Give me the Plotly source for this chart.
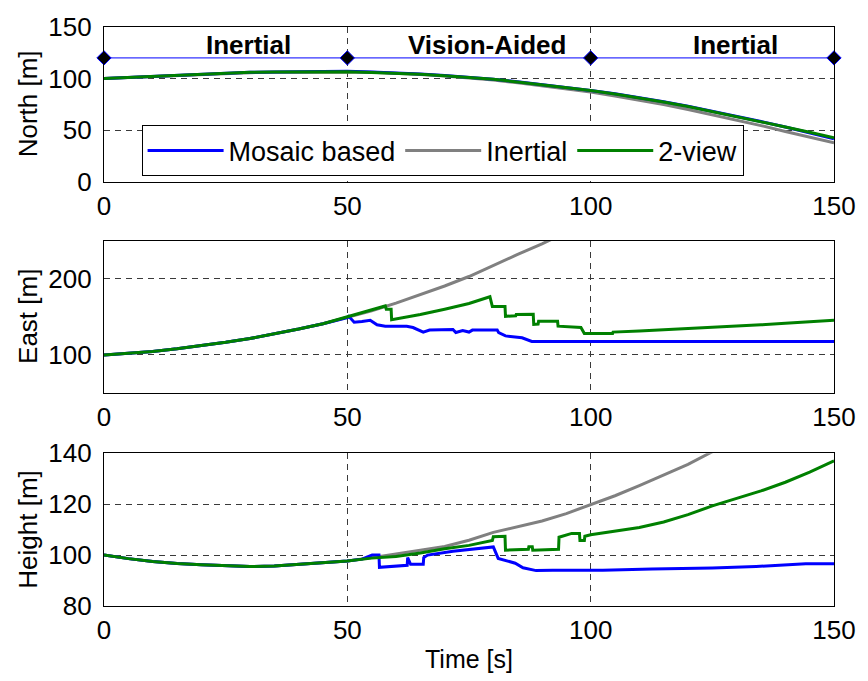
import plotly.graph_objects as go
from plotly.subplots import make_subplots

# ---------------- North [m] ----------------
t_north = [0, 5, 10, 15, 20, 25, 30, 35, 40, 45, 50, 55, 60, 65, 70, 75,
           80, 85, 90, 95, 100, 105, 110, 115, 120, 125, 130, 135, 140, 145, 150]
north_inertial = [100, 101, 102.3, 103.3, 104.3, 105, 105.7, 106, 106.3, 106.4, 106.4,
                  106, 105.2, 104, 102.5, 100.7, 98.5, 95.8, 92.8, 89.6, 86.8,
                  83, 79, 74.7, 70, 65, 59.7, 54.3, 48.6, 43, 37.5]
north_mosaic = [100, 101, 102.5, 103.5, 104.5, 105.2, 106, 106.3, 106.5, 106.6, 107,
                106.2, 105.5, 104.4, 103, 101.4, 99.3, 96.8, 94.1, 91.1, 88.4,
                85.2, 81.5, 77.4, 73, 68.2, 63.2, 58.2, 53, 47.6, 41.5]
north_2view = [100, 101, 102.5, 103.5, 104.5, 105.2, 106, 106.3, 106.5, 106.6, 106.6,
               105.8, 105.3, 104.2, 102.8, 101.2, 99.2, 96.7, 94, 91, 88.3,
               85, 81.3, 77.2, 72.8, 68, 63, 58, 53, 47.8, 42.5]

# ---------------- East [m] ----------------
t_east_inertial = [0, 5, 10, 15, 20, 25, 30, 35, 40, 45, 50, 55, 60, 65, 70, 75, 80, 85, 90, 95]
east_inertial = [100, 102, 104.5, 108, 112, 116.5, 121.5, 127.5, 134, 141, 149,
                 158, 168, 179, 190.5, 203, 218, 232, 246, 261]

t_east_mosaic = [0, 5, 10, 15, 20, 25, 30, 35, 40, 45, 50, 50.3, 51.4, 53, 54.7, 56.1,
                 57.8, 62.2, 63.5, 65.6, 66.9, 71.7, 72.3, 73.7, 75.0, 75.7, 80.8,
                 81.1, 82.5, 85.9, 87.9, 150]
east_mosaic = [100, 102, 104.5, 108, 112, 116.5, 121.5, 127.5, 134, 141, 149, 150.7, 143,
               144, 145.6, 139.5, 137.8, 137.5, 136, 130, 132.6, 133.5, 129.5, 132,
               130, 132.6, 132.6, 129.2, 125, 122.5, 117.6, 117.5]

t_east_2view = [0, 5, 10, 15, 20, 25, 30, 35, 40, 45, 50, 55, 57.8, 58.0, 59, 59.1,
                65, 70, 75, 79.3, 79.8, 82.4, 82.5, 84.6, 84.7, 88.2, 88.3, 89.2,
                89.3, 93.2, 93.3, 98, 98.7, 104.5, 104.6, 110, 115, 120, 125, 130,
                135, 140, 145, 150]
east_2view = [100, 102, 104.5, 108, 112, 116.5, 121.5, 127.5, 134, 141, 150, 158.5,
              164.3, 160, 160, 146.3, 153, 160, 167.5, 176.4, 163.6, 163.6, 150.7,
              151.5, 153, 153.5, 140, 140.5, 144.2, 144.2, 137.8, 136, 128, 128,
              130, 131.5, 133, 134.5, 136, 137.5, 139.5, 141.5, 143.5, 145.5]

# ---------------- Height [m] ----------------
t_height_inertial = [0, 5, 10, 15, 20, 25, 30, 35, 40, 45, 50, 55, 60, 65, 70, 75, 80,
                     85, 90, 95, 100, 105, 110, 115, 120, 125, 130]
height_inertial = [100, 98.6, 97.5, 96.7, 96.2, 95.8, 95.5, 95.7, 96.3, 97, 97.7,
                   99, 100.6, 101.9, 103.4, 105.8, 108.9, 111, 113.4, 116.3, 119.7,
                   123.3, 127.3, 131.4, 135.6, 140.6, 145]

t_height_mosaic = [0, 5, 10, 15, 20, 25, 30, 35, 40, 45, 50, 53, 55.1, 56.5, 56.6,
                   62.3, 62.4, 63.0, 65.6, 65.7, 66.5, 71.7, 74.4, 78.3, 80.0, 81.0,
                   82.3, 84.5, 86.1, 88.8, 92.2, 102.5, 112.6, 125, 134, 144.2, 150]
height_mosaic = [100, 98.6, 97.5, 96.7, 96.2, 95.8, 95.5, 95.7, 96.3, 97, 97.7, 98.4,
                 100, 100, 95.2, 96, 99, 96.4, 96.4, 99, 100, 101.5, 102, 103, 103.2,
                 98.7, 98.1, 96.8, 95, 93.9, 94, 94, 94.5, 94.9, 95.5, 96.6, 96.6]

t_height_2view = [0, 5, 10, 15, 20, 25, 30, 35, 40, 45, 50, 55, 60, 65, 70, 75, 79.8,
                  80.0, 82.4, 82.5, 87.2, 87.3, 88.0, 88.1, 93.4, 93.5, 96.1, 97.7,
                  97.8, 98.7, 98.8, 100, 105, 110, 115, 120, 125, 130, 135, 140, 145, 150]
height_2view = [100, 98.6, 97.5, 96.7, 96.2, 95.8, 95.5, 95.7, 96.3, 97, 97.7, 98.8,
                99.4, 100.8, 102.5, 103.8, 105.7, 107.2, 107.4, 101.9, 102.3, 103.3,
                103.3, 101.9, 102.3, 107, 108.5, 108.5, 105.7, 105.7, 107.4, 108,
                109.3, 110.8, 113, 115.9, 119.3, 122.2, 125.2, 128.6, 132.6, 137]

# Flight phases marked on the North panel
phase_bounds = [0, 50, 100, 150]
phase_level = [120, 120, 120, 120]
phase_names = ["Inertial", "Vision-Aided", "Inertial"]
phase_label_x = [29.7, 78.7, 129.7]

x_ticks = [0, 50, 100, 150]

C_MOSAIC = "#0000FF"
C_INERTIAL = "#808080"
C_2VIEW = "#008000"
LW = 3
FONT = "Liberation Sans, Arial, Helvetica, sans-serif"

fig = make_subplots(rows=3, cols=1)

panels = [
    (1, (t_north, north_inertial), (t_north, north_mosaic), (t_north, north_2view)),
    (2, (t_east_inertial, east_inertial), (t_east_mosaic, east_mosaic), (t_east_2view, east_2view)),
    (3, (t_height_inertial, height_inertial), (t_height_mosaic, height_mosaic), (t_height_2view, height_2view)),
]

for row, ine, mos, two in panels:
    show = row == 1
    fig.add_trace(go.Scatter(x=ine[0], y=ine[1], mode="lines", name="Inertial",
                             line=dict(color=C_INERTIAL, width=LW), legendrank=2,
                             showlegend=show), row=row, col=1)
    fig.add_trace(go.Scatter(x=mos[0], y=mos[1], mode="lines", name="Mosaic based",
                             line=dict(color=C_MOSAIC, width=LW), legendrank=1,
                             showlegend=show), row=row, col=1)
    fig.add_trace(go.Scatter(x=two[0], y=two[1], mode="lines", name="2-view",
                             line=dict(color=C_2VIEW, width=LW), legendrank=3,
                             showlegend=show), row=row, col=1)

# Phase boundary line with diamond markers
fig.add_trace(go.Scatter(x=phase_bounds, y=phase_level, mode="lines+markers",
                         line=dict(color="#0000FF", width=1),
                         marker=dict(symbol="diamond", size=11, color="black",
                                     line=dict(color="#0000FF", width=1)),
                         cliponaxis=False, showlegend=False, hoverinfo="skip"),
              row=1, col=1)

for name, xp in zip(phase_names, phase_label_x):
    fig.add_annotation(x=xp, y=132.5, xref="x", yref="y", text="<b>" + name + "</b>",
                       showarrow=False, font=dict(size=26, color="black", family=FONT),
                       xanchor="center", yanchor="middle")

grid_col = "#3a3a3a"
axis_common = dict(showline=True, linecolor="black", linewidth=1.3, mirror=True,
                   showgrid=True, gridcolor=grid_col, griddash="6px,5px", gridwidth=1,
                   ticks="", zeroline=False,
                   tickfont=dict(size=26, color="black", family=FONT))

domains = [(0.7331, 1.0), (0.3679, 0.6309), (0.0, 0.2639)]
y_ranges = [[0, 150], [50, 250], [80, 140]]
y_ticks = [[0, 50, 100, 150], [100, 200], [80, 100, 120, 140]]
y_titles = ["North [m]", "East [m]", "Height [m]"]

for i in range(3):
    xa = "xaxis" if i == 0 else f"xaxis{i + 1}"
    ya = "yaxis" if i == 0 else f"yaxis{i + 1}"
    fig.layout[xa].update(range=[0, 150], tickvals=x_ticks, ticklabelstandoff=1,
                          **axis_common)
    fig.layout[ya].update(range=y_ranges[i], tickvals=y_ticks[i], domain=list(domains[i]),
                          ticklabelstandoff=6, **axis_common)
    # vertical axis label, centred on its panel
    fig.add_annotation(x=-0.104, y=(domains[i][0] + domains[i][1]) / 2,
                       xref="paper", yref="paper", text=y_titles[i], textangle=-90,
                       showarrow=False, xanchor="center", yanchor="middle",
                       font=dict(size=26, color="black", family=FONT))

fig.layout.xaxis3.title = dict(text="Time [s]", font=dict(size=25, color="black", family=FONT),
                               standoff=6)

fig.update_layout(
    width=868, height=681,
    margin=dict(l=104, r=26, t=17, b=72),
    paper_bgcolor="white", plot_bgcolor="white",
    font=dict(family=FONT, color="black"),
    legend=dict(orientation="h", x=0.0515, y=0.83, xanchor="left", yanchor="top",
                bgcolor="white", bordercolor="black", borderwidth=1,
                font=dict(size=27, color="black", family=FONT), itemwidth=76,
                traceorder="normal"),
    showlegend=True,
)

fig.write_html("out.html")
